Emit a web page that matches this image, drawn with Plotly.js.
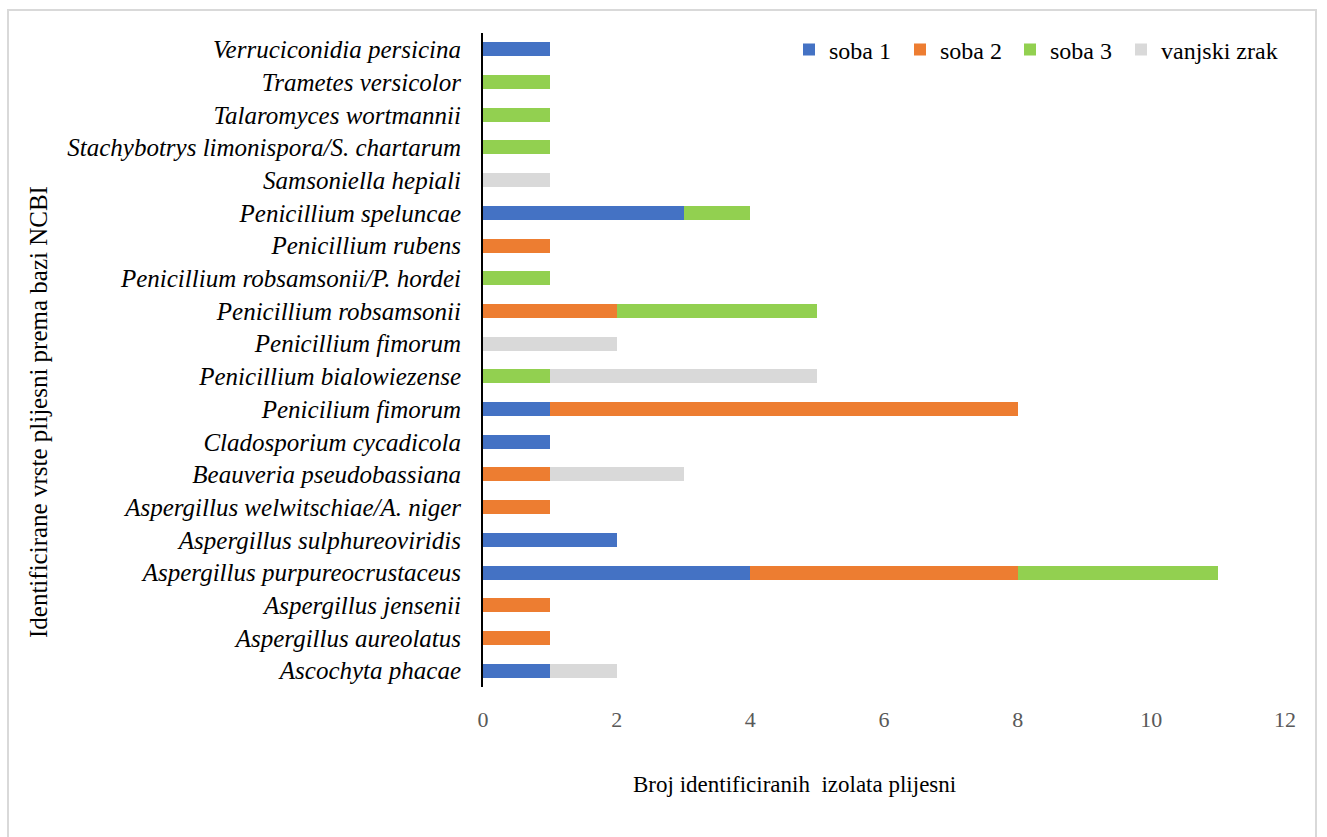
<!DOCTYPE html>
<html>
<head>
<meta charset="utf-8">
<script src="https://cdn.plot.ly/plotly-3.0.1.min.js"></script>
<style>
body{margin:0;padding:0;background:#fff;}
#wrap{position:relative;width:1327px;height:837px;}
#chart{position:absolute;left:0;top:0;width:1327px;height:837px;}
#frame{position:absolute;left:7px;top:9px;width:1310px;height:830px;border:2px solid #d9d9d9;box-sizing:border-box;pointer-events:none;}
</style>
</head>
<body>
<div id="wrap"><div id="chart"></div><div id="frame"></div></div>
<script>
const categories = [
  "Ascochyta phacae",
  "Aspergillus aureolatus",
  "Aspergillus jensenii",
  "Aspergillus purpureocrustaceus",
  "Aspergillus sulphureoviridis",
  "Aspergillus welwitschiae/A. niger",
  "Beauveria pseudobassiana",
  "Cladosporium cycadicola",
  "Penicilium fimorum",
  "Penicillium bialowiezense",
  "Penicillium fimorum",
  "Penicillium robsamsonii",
  "Penicillium robsamsonii/P. hordei",
  "Penicillium rubens",
  "Penicillium speluncae",
  "Samsoniella hepiali",
  "Stachybotrys limonispora/S. chartarum",
  "Talaromyces wortmannii",
  "Trametes versicolor",
  "Verruciconidia persicina"
];
const soba1 =   [1,0,0,4,2,0,0,1,1,0,0,0,0,0,3,0,0,0,0,1];
const soba2 =   [0,1,1,4,0,1,1,0,7,0,0,2,0,1,0,0,0,0,0,0];
const soba3 =   [0,0,0,3,0,0,0,0,0,1,0,3,1,0,1,0,1,1,1,0];
const vanjski = [1,0,0,0,0,0,2,0,0,4,2,0,0,0,0,1,0,0,0,0];
const seriesNames = ["soba 1","soba 2","soba 3","vanjski zrak"];
const xTicks = [0,2,4,6,8,10,12];

const colors = ["#4472C4","#ED7D31","#92D050","#D9D9D9"];
const allVals = [soba1,soba2,soba3,vanjski];
const serif = "'Liberation Serif', 'Times New Roman', serif";
const legendIds = ["legend","legend2","legend3","legend4"];
const legendXpx = [789, 900, 1010, 1121];

const traces = allVals.map((v,i)=>({
  type:"bar", orientation:"h",
  y: categories.map(c=>"<i>"+c+"</i>"),
  x: v,
  name: seriesNames[i],
  legend: legendIds[i],
  marker:{color:colors[i], line:{width:0}},
  hoverinfo:"x+name"
}));

const layout = {
  width:1327, height:837,
  barmode:"stack",
  bargap:0.57,
  paper_bgcolor:"#fff", plot_bgcolor:"#fff",
  margin:{l:483, r:42, t:33, b:150, autoexpand:false},
  font:{family:serif, color:"#000"},
  showlegend:true,
  xaxis:{range:[0,12], tickvals:xTicks, ticktext:xTicks.map(String),
    showgrid:false, zeroline:false, showline:false, ticks:"",
    tickfont:{family:serif, size:22, color:"#595959"}, ticklabelstandoff:17, fixedrange:true},
  yaxis:{type:"category", categoryorder:"array", categoryarray:categories.map(c=>"<i>"+c+"</i>"),
    showgrid:false, zeroline:false, showline:true, linecolor:"#000", linewidth:2,
    ticks:"", tickfont:{family:serif, size:25, color:"#000"}, ticklabelstandoff:15,
    range:[-0.5,19.5], fixedrange:true},
  annotations:[
    {text:"Broj identificiranih  izolata plijesni", xref:"paper", yref:"paper",
     x:(794-483)/802, y:-(784-687)/654, xanchor:"center", yanchor:"middle", showarrow:false,
     font:{family:serif, size:23, color:"#000"}},
    {text:"Identificirane vrste plijesni prema bazi NCBI", xref:"paper", yref:"paper",
     x:(38-483)/802, y:(687-412)/654, xanchor:"center", yanchor:"middle", showarrow:false, textangle:-90,
     font:{family:serif, size:25, color:"#000"}}
  ]
};
legendIds.forEach((id,i)=>{
  layout[id] = {orientation:"h", x:(legendXpx[i]-483)/802, y:(687-50)/654, xanchor:"left", yanchor:"middle",
    font:{family:serif, size:24, color:"#000"}, itemwidth:30, bgcolor:"rgba(0,0,0,0)"};
});
Plotly.newPlot("chart", traces, layout, {displayModeBar:false, staticPlot:true});
</script>
</body>
</html>
